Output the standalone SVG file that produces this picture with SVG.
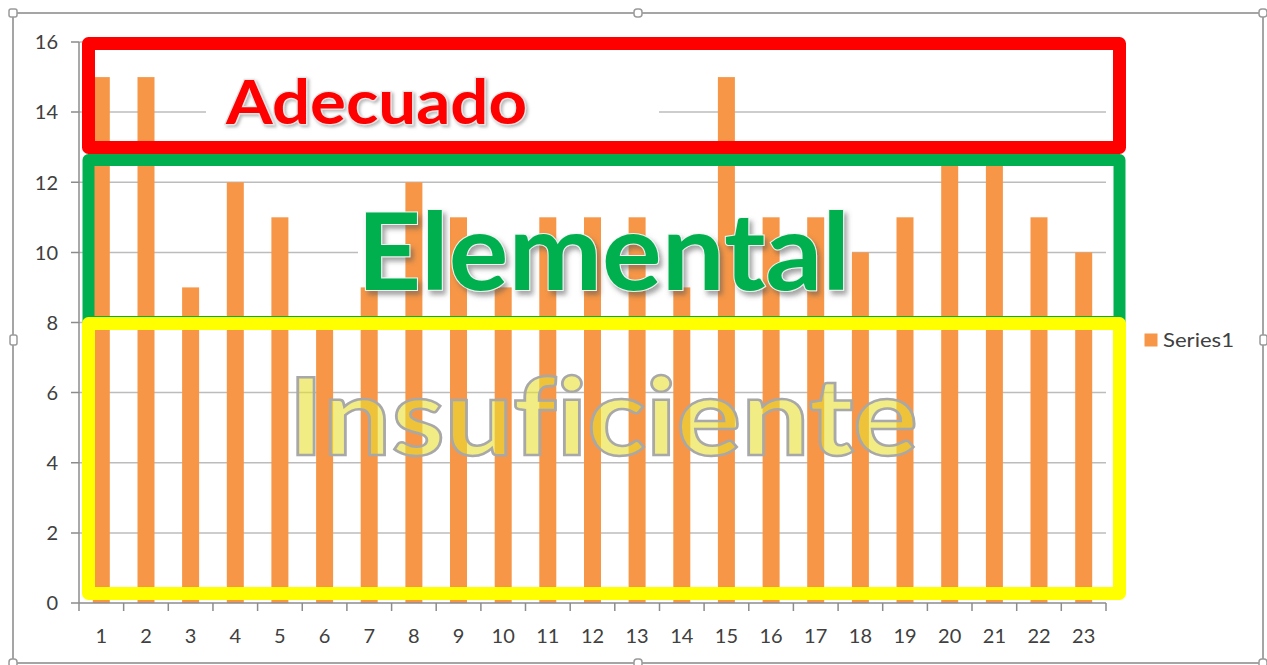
<svg xmlns="http://www.w3.org/2000/svg" width="1267" height="665" viewBox="0 0 1267 665">
<style>
.grid{stroke:#bcbcbc;stroke-width:1.5;fill:none}
.axis{stroke:#8c8c8c;stroke-width:1.5;fill:none}
.bar{fill:#f79646}
.lbl{font-family:Lato,"Open Sans","Liberation Sans",sans-serif;font-size:20px;fill:#404040}
.ylbl{text-anchor:end}
.xlbl{text-anchor:middle}
.band{fill:none;stroke-linejoin:round}
.handle{fill:#ffffff;stroke:#9a9a9a;stroke-width:1.5}
.big{font-family:Lato,"Open Sans","Liberation Sans",sans-serif;font-weight:bold;font-variant-ligatures:none}
</style>
<defs>
<filter id="shadow" x="-10%" y="-30%" width="120%" height="160%">
<feDropShadow dx="3" dy="4" stdDeviation="2.5" flood-color="#555555" flood-opacity="0.55"/>
</filter>
<filter id="shadowLight" x="-10%" y="-30%" width="120%" height="160%">
<feDropShadow dx="2" dy="2" stdDeviation="1.5" flood-color="#777777" flood-opacity="0.5"/>
</filter>
</defs>

<g id="frame">
<rect x="13" y="13" width="1250" height="650" fill="#ffffff" stroke="#a5a5a5" stroke-width="2"/>
<rect class="handle" x="9" y="9" width="8" height="8" rx="2"/>
<rect class="handle" x="634" y="9" width="8" height="8" rx="3"/>
<rect class="handle" x="1259" y="9" width="8" height="8" rx="3"/>
<rect class="handle" x="10" y="335" width="7" height="10" rx="2"/>
<rect class="handle" x="1260" y="335" width="7" height="10" rx="2"/>
<rect class="handle" x="9" y="659" width="8" height="8" rx="3"/>
<rect class="handle" x="634" y="659" width="8" height="8" rx="3"/>
<rect class="handle" x="1259" y="659" width="8" height="8" rx="3"/>
</g>

<g id="gridlines">
<line class="grid" x1="79" y1="532.9" x2="1106" y2="532.9"/>
<line class="grid" x1="79" y1="462.8" x2="1106" y2="462.8"/>
<line class="grid" x1="79" y1="392.6" x2="1106" y2="392.6"/>
<line class="grid" x1="79" y1="322.5" x2="1106" y2="322.5"/>
<line class="grid" x1="79" y1="252.4" x2="358" y2="252.4"/>
<line class="grid" x1="852" y1="252.4" x2="1106" y2="252.4"/>
<line class="grid" x1="79" y1="182.3" x2="1106" y2="182.3"/>
<line class="grid" x1="79" y1="112.1" x2="206" y2="112.1"/>
<line class="grid" x1="659" y1="112.1" x2="1106" y2="112.1"/>
<line class="grid" x1="79" y1="42" x2="1106" y2="42"/>
</g>

<g id="bars">
<rect class="bar" x="92.8" y="77.1" width="17" height="525.9"/>
<rect class="bar" x="137.5" y="77.1" width="17" height="525.9"/>
<rect class="bar" x="182.1" y="287.4" width="17" height="315.6"/>
<rect class="bar" x="226.8" y="182.3" width="17" height="420.7"/>
<rect class="bar" x="271.4" y="217.3" width="17" height="385.7"/>
<rect class="bar" x="316.1" y="322.5" width="17" height="280.5"/>
<rect class="bar" x="360.7" y="287.4" width="17" height="315.6"/>
<rect class="bar" x="405.4" y="182.3" width="17" height="420.7"/>
<rect class="bar" x="450.0" y="217.3" width="17" height="385.7"/>
<rect class="bar" x="494.7" y="287.4" width="17" height="315.6"/>
<rect class="bar" x="539.3" y="217.3" width="17" height="385.7"/>
<rect class="bar" x="584.0" y="217.3" width="17" height="385.7"/>
<rect class="bar" x="628.6" y="217.3" width="17" height="385.7"/>
<rect class="bar" x="673.3" y="287.4" width="17" height="315.6"/>
<rect class="bar" x="717.9" y="77.1" width="17" height="525.9"/>
<rect class="bar" x="762.6" y="217.3" width="17" height="385.7"/>
<rect class="bar" x="807.2" y="217.3" width="17" height="385.7"/>
<rect class="bar" x="851.9" y="252.4" width="17" height="350.6"/>
<rect class="bar" x="896.5" y="217.3" width="17" height="385.7"/>
<rect class="bar" x="941.2" y="147.2" width="17" height="455.8"/>
<rect class="bar" x="985.9" y="147.2" width="17" height="455.8"/>
<rect class="bar" x="1030.5" y="217.3" width="17" height="385.7"/>
<rect class="bar" x="1075.2" y="252.4" width="17" height="350.6"/>
</g>

<g id="axes">
<line class="axis" x1="79" y1="42" x2="79" y2="603"/>
<line class="axis" x1="79" y1="603" x2="1106" y2="603"/>
<path class="axis" d="M71 603H79M71 532.9H79M71 462.8H79M71 392.6H79M71 322.5H79M71 252.4H79M71 182.3H79M71 112.1H79M71 42H79"/>
<path class="axis" d="M79 603V611M123.65 603V611M168.3 603V611M212.96 603V611M257.6 603V611M302.26 603V611M346.9 603V611M391.6 603V611M436.2 603V611M480.9 603V611M525.5 603V611M570.2 603V611M614.8 603V611M659.5 603V611M704.1 603V611M748.8 603V611M793.4 603V611M838.1 603V611M882.7 603V611M927.4 603V611M972 603V611M1016.7 603V611M1061.3 603V611M1106 603V611"/>
</g>

<g id="y-labels" class="lbl ylbl">
<text x="58" y="610">0</text>
<text x="58" y="540">2</text>
<text x="58" y="470">4</text>
<text x="58" y="400">6</text>
<text x="58" y="329.5">8</text>
<text x="58" y="259.5">10</text>
<text x="58" y="189.5">12</text>
<text x="58" y="119">14</text>
<text x="58" y="49">16</text>
</g>

<g id="x-labels" class="lbl xlbl">
<text x="101.3" y="643">1</text>
<text x="146" y="643">2</text>
<text x="190.6" y="643">3</text>
<text x="235.3" y="643">4</text>
<text x="279.9" y="643">5</text>
<text x="324.6" y="643">6</text>
<text x="369.2" y="643">7</text>
<text x="413.9" y="643">8</text>
<text x="458.5" y="643">9</text>
<text x="503.2" y="643">10</text>
<text x="547.8" y="643">11</text>
<text x="592.5" y="643">12</text>
<text x="637.1" y="643">13</text>
<text x="681.8" y="643">14</text>
<text x="726.4" y="643">15</text>
<text x="771.1" y="643">16</text>
<text x="815.7" y="643">17</text>
<text x="860.4" y="643">18</text>
<text x="905" y="643">19</text>
<text x="949.7" y="643">20</text>
<text x="994.4" y="643">21</text>
<text x="1039" y="643">22</text>
<text x="1083.7" y="643">23</text>
</g>

<g id="legend">
<rect x="1144.5" y="333.5" width="13" height="13" fill="#f79646"/>
<text class="lbl" x="1163" y="347" textLength="71" lengthAdjust="spacingAndGlyphs">Series1</text>
</g>

<g id="band-elemental">
<rect class="band" x="88.5" y="160" width="1031" height="162" stroke="#00b050" stroke-width="12"/>
</g>
<g id="band-adecuado">
<rect class="band" x="88.5" y="43.5" width="1031" height="104" stroke="#ff0000" stroke-width="13"/>
</g>
<g id="band-insuficiente">
<rect class="band" x="88.5" y="323.5" width="1031" height="270" stroke="#ffff00" stroke-width="13"/>
</g>

<g id="label-adecuado">
<text class="big" x="226" y="124" font-size="61" fill="#ff0000" stroke="#e6e6e6" stroke-width="2.5" paint-order="stroke" filter="url(#shadowLight)" textLength="301" lengthAdjust="spacingAndGlyphs">Adecuado</text>
</g>
<g id="label-elemental">
<text class="big" x="357" y="290" font-size="107" fill="#00b050" stroke="#f2f2f2" stroke-width="2" paint-order="stroke" filter="url(#shadow)" textLength="493" lengthAdjust="spacingAndGlyphs">Elemental</text>
</g>
<g id="label-insuficiente">
<text class="big" x="288" y="455" font-size="108" fill="#e8e030" fill-opacity="0.6" stroke="#a8a8a8" stroke-width="2.5" textLength="630" lengthAdjust="spacingAndGlyphs">Insuficiente</text>
</g>
</svg>
